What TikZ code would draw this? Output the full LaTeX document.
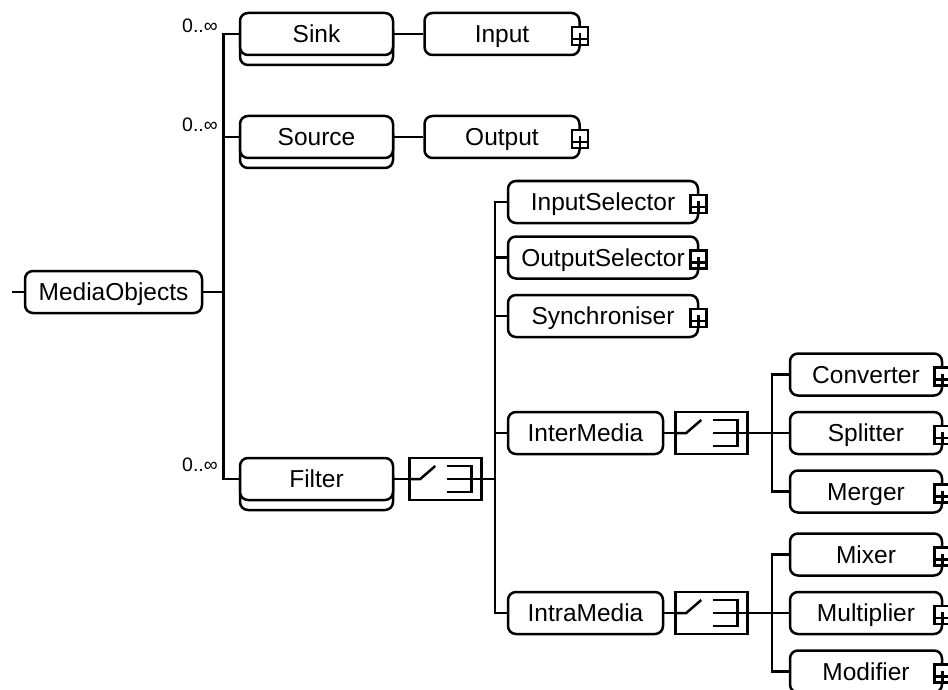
\documentclass[tikz,border=0pt]{standalone}
\usepackage{fontspec}
\setmainfont{Liberation Sans}
\usetikzlibrary{positioning, shadows}

% small boxed plus at the right end of a node
\newcommand{\expandmark}[1]{%
  \draw[fill=white] ([xshift=-9pt,yshift=7pt]#1.east) rectangle ([xshift=7pt,yshift=-11pt]#1.east);
  \draw ([xshift=-9pt,yshift=-5pt]#1.east) -- ++(16pt,0pt);
  \draw ([xshift=-1pt,yshift=1pt]#1.east) -- ++(0pt,-12pt);
}
% switch symbol inside a choice box
\newcommand{\choicemark}[1]{%
  \draw (#1.west) -- ++(12pt,0pt) -- ++(15pt,13pt);
  \draw ([xshift=1pt,yshift=13pt]#1.center) -- ++(25pt,0pt) -- ++(0pt,-26pt) -- ++(-25pt,0pt);
  \draw ([xshift=1pt]#1.center) -- (#1.east);
}

\begin{document}
\begin{tikzpicture}[x=1pt, y=-1pt, line width=2.5pt,
    elem/.style={rectangle, draw, fill=white, rounded corners=8pt, minimum height=42pt, inner sep=0pt, text height=17.5pt, text depth=0pt, font=\fontsize{24.5}{28}\selectfont},
    multi/.style={elem, copy shadow={shadow xshift=0pt, shadow yshift=-10pt}},
    choicebox/.style={rectangle, draw, fill=white, minimum width=72pt, minimum height=42pt, inner sep=0pt},
    mult/.style={inner sep=0pt, anchor=base east, font=\fontsize{19.5}{22}\selectfont}]

    \fill[white] (0,0) rectangle (948,690);
    \useasboundingbox (0,0) rectangle (948,690);

    % Root and its children
    \node [elem, minimum width=177pt] (media) at (113.5,292) {MediaObjects};
    \node [multi, minimum width=153pt] (sink) at (316.5,34) {Sink};
    \node [multi, minimum width=153pt] (source) at (316.5,137) {Source};
    \node [multi, minimum width=153pt] (filter) at (316.5,479) {Filter};
    \node [elem, minimum width=155pt, right=29pt of sink] (input) {Input};
    \node [elem, minimum width=155pt, right=29pt of source] (output) {Output};
    \node [choicebox, right=14pt of filter] (filterchoice) {};

    % Multiplicities
    \node [mult] (sinkmult) at (219,33) {0..∞};
    \node [mult] (sourcemult) at (219,132) {0..∞};
    \node [mult] (filtermult) at (219,471) {0..∞};

    % Filter kinds
    \node [elem, minimum width=190pt] (inputsel) at (603,202) {InputSelector};
    \node [elem, minimum width=190pt] (outputsel) at (603,257.5) {OutputSelector};
    \node [elem, minimum width=190pt] (sync) at (603,316) {Synchroniser};
    \node [elem, minimum width=155pt] (inter) at (585.5,433) {InterMedia};
    \node [elem, minimum width=155pt] (intra) at (585.5,613) {IntraMedia};
    \node [choicebox, right=10pt of inter] (interchoice) {};
    \node [choicebox, right=10pt of intra] (intrachoice) {};

    % Leaves
    \node [elem, minimum width=152pt, right=40pt of interchoice] (splitter) {Splitter};
    \node [elem, minimum width=152pt, above=14pt of splitter] (converter) {Converter};
    \node [elem, minimum width=152pt, below=14pt of splitter] (merger) {Merger};
    \node [elem, minimum width=152pt, right=40pt of intrachoice] (multiplier) {Multiplier};
    \node [elem, minimum width=152pt, above=14pt of multiplier] (mixer) {Mixer};
    \node [elem, minimum width=152pt, below=14pt of multiplier] (modifier) {Modifier};

    % Connectors
    \coordinate (stub) at (12,292);
    \draw (stub) -- (media.west);
    \foreach \n in {sink, source, filter}
        \draw (media.east) -- ++(20pt,0pt) |- (\n.west);
    \draw (sink) -- (input);
    \draw (source) -- (output);
    \draw (filter) -- (filterchoice);
    \choicemark{filterchoice}
    \foreach \n in {inputsel, outputsel, sync, inter, intra}
        \draw (filterchoice.east) -- ++(12pt,0pt) |- (\n.west);
    \draw (inter) -- (interchoice);
    \choicemark{interchoice}
    \foreach \n in {converter, splitter, merger}
        \draw (interchoice.east) -- ++(23pt,0pt) |- (\n.west);
    \draw (intra) -- (intrachoice);
    \choicemark{intrachoice}
    \foreach \n in {mixer, multiplier, modifier}
        \draw (intrachoice.east) -- ++(23pt,0pt) |- (\n.west);

    % Expand marks
    \foreach \n in {input, output, inputsel, outputsel, sync, converter, splitter, merger, mixer, multiplier, modifier}
        \expandmark{\n};

\end{tikzpicture}
\end{document}
